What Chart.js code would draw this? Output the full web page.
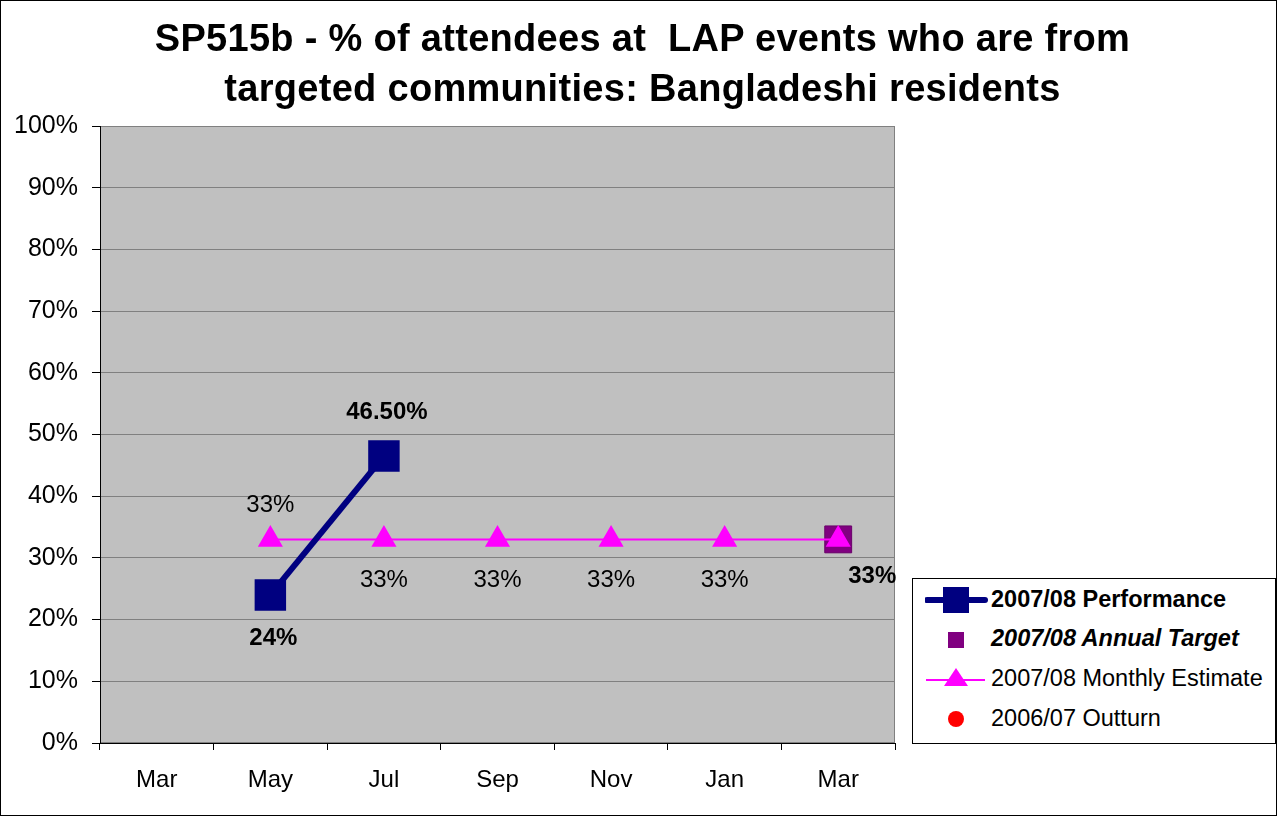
<!DOCTYPE html>
<html>
<head>
<meta charset="utf-8">
<script src="https://cdn.jsdelivr.net/npm/chart.js@4.4.1/dist/chart.umd.min.js"></script>
<style>
  html, body { margin:0; padding:0; background:#fff; }
  #frame { position:relative; width:1275px; height:814px; border:1px solid #000; overflow:hidden;
           font-family:"Liberation Sans", Arial, sans-serif; }
  #chart { position:absolute; left:-1px; top:-1px; }
  #title { position:absolute; left:0; top:12px; width:1283px; text-align:center; font-weight:bold;
           font-size:38px; line-height:50px; letter-spacing:0.3px; color:#000; }
  #legend { position:absolute; left:911px; top:577px; width:362px; height:164px; border:1px solid #000; background:#fff;
            font-size:23.5px; color:#000; }
  .row { position:absolute; left:0; height:30px; width:100%; }
  .row svg { position:absolute; left:12px; top:0; }
  .row span { position:absolute; left:78px; top:1px; white-space:nowrap; }
</style>
</head>
<body>
<div id="frame">
  <canvas id="chart" width="1277" height="816"></canvas>
  <div id="title">SP515b - % of attendees at&nbsp; LAP events who are from<br>targeted communities: Bangladeshi residents</div>
  <div id="legend">
    <div class="row" style="top:6px">
      <svg width="64" height="30"><line x1="2" y1="15" x2="60" y2="15" stroke="#000080" stroke-width="6" stroke-linecap="round"/><rect x="18" y="2" width="26" height="26" fill="#000080"/></svg>
      <span style="font-weight:bold">2007/08 Performance</span>
    </div>
    <div class="row" style="top:45px">
      <svg width="64" height="30"><rect x="23" y="8" width="16" height="16" fill="#800080"/></svg>
      <span style="font-weight:bold;font-style:italic">2007/08 Annual Target</span>
    </div>
    <div class="row" style="top:85px">
      <svg width="64" height="30"><line x1="1" y1="16" x2="60" y2="16" stroke="#FF00FF" stroke-width="2"/><polygon points="31,4 43,22 19,22" fill="#FF00FF"/></svg>
      <span>2007/08 Monthly Estimate</span>
    </div>
    <div class="row" style="top:125px">
      <svg width="64" height="30"><circle cx="31" cy="15" r="8" fill="#FF0000"/></svg>
      <span>2006/07 Outturn</span>
    </div>
  </div>
</div>
<script>
const months = ["Mar", "May", "Jul", "Sep", "Nov", "Jan", "Mar"];
const performance = [null, 24, 46.5, null, null, null, null];
const performanceLabels = [null, "24%", "46.50%", null, null, null, null];
const annualTarget = [null, null, null, null, null, null, 33];
const targetLabels = [null, null, null, null, null, null, "33%"];
const monthlyEstimate = [null, 33, 33, 33, 33, 33, 33];
const estimateLabels = [null, "33%", "33%", "33%", "33%", "33%", null];
const outturn = [null, null, null, null, null, null, null];
const yTicks = [0, 10, 20, 30, 40, 50, 60, 70, 80, 90, 100];

const FONT = "'Liberation Sans', Arial, sans-serif";

// grey plot area with border, drawn under the gridlines
const plotBg = {
  id: "plotBg",
  beforeDraw(chart) {
    const { ctx, chartArea: a } = chart;
    ctx.save();
    ctx.fillStyle = "#C0C0C0";
    ctx.fillRect(a.left, a.top, a.right - a.left, a.bottom - a.top);
    ctx.strokeStyle = "#808080";
    ctx.lineWidth = 1;
    ctx.strokeRect(a.left + 0.5, a.top + 0.5, a.right - a.left - 1, a.bottom - a.top - 1);
    ctx.restore();
  }
};

// value labels next to points
const pointLabels = {
  id: "pointLabels",
  afterDatasetsDraw(chart) {
    const { ctx } = chart;
    const specs = [
      { ds: 0, labels: performanceLabels, bold: true, dy: i => i === 1 ? 43 : -44, dx: () => 3 },
      { ds: 1, labels: targetLabels, bold: true, dy: () => 37, dx: () => 34 },
      { ds: 2, labels: estimateLabels, bold: false, dy: i => i === 1 ? -34 : 41, dx: () => 0 }
    ];
    ctx.save();
    ctx.fillStyle = "#000";
    ctx.textAlign = "center";
    ctx.textBaseline = "middle";
    for (const s of specs) {
      ctx.font = (s.bold ? "bold " : "") + "24px " + FONT;
      const meta = chart.getDatasetMeta(s.ds);
      meta.data.forEach((pt, i) => {
        const t = s.labels[i];
        if (!t) return;
        ctx.fillText(t, pt.x + s.dx(i), pt.y + s.dy(i));
      });
    }
    ctx.restore();
  }
};

new Chart(document.getElementById("chart"), {
  type: "line",
  data: {
    labels: months,
    datasets: [
      { label: "2007/08 Performance", data: performance, borderColor: "#000080", backgroundColor: "#000080",
        borderWidth: 6, pointStyle: "rect", pointRadius: 18, pointHoverRadius: 18, order: 0, spanGaps: false },
      { label: "2007/08 Annual Target", data: annualTarget, showLine: false, borderColor: "#6A006A", backgroundColor: "#800080",
        borderWidth: 1, pointStyle: "rect", pointRadius: 19, pointHoverRadius: 19, order: 2 },
      { label: "2007/08 Monthly Estimate", data: monthlyEstimate, borderColor: "#FF00FF", backgroundColor: "#FF00FF",
        borderWidth: 2, pointStyle: "triangle", pointRadius: 12.5, pointHoverRadius: 12.5, order: 1 },
      { label: "2006/07 Outturn", data: outturn, showLine: false, borderColor: "#FF0000", backgroundColor: "#FF0000",
        pointStyle: "circle", pointRadius: 8, order: 3 }
    ]
  },
  options: {
    responsive: false,
    animation: false,
    layout: { padding: { left: 0, right: 382, top: 126, bottom: 0 } },
    plugins: {
      legend: { display: false },
      tooltip: { enabled: false },
      title: { display: false }
    },
    scales: {
      x: {
        offset: true,
        afterFit: axis => { axis.height = 73; },
        grid: { offset: true, drawOnChartArea: false, drawTicks: true, tickLength: 7, color: "#000" },
        border: { color: "#000", width: 1 },
        ticks: { color: "#000", font: { family: FONT, size: 24 }, padding: 16, maxRotation: 0 }
      },
      y: {
        min: 0, max: 100,
        afterFit: axis => { axis.width = 100; },
        afterBuildTicks: axis => { axis.ticks = yTicks.map(v => ({ value: v })); },
        grid: { color: "#808080", lineWidth: 1, tickLength: 8, tickColor: "#000" },
        border: { color: "#000", width: 1 },
        ticks: { color: "#000", font: { family: FONT, size: 25 }, padding: 14, callback: v => v + "%" }
      }
    }
  },
  plugins: [plotBg, pointLabels]
});
</script>
</body>
</html>
